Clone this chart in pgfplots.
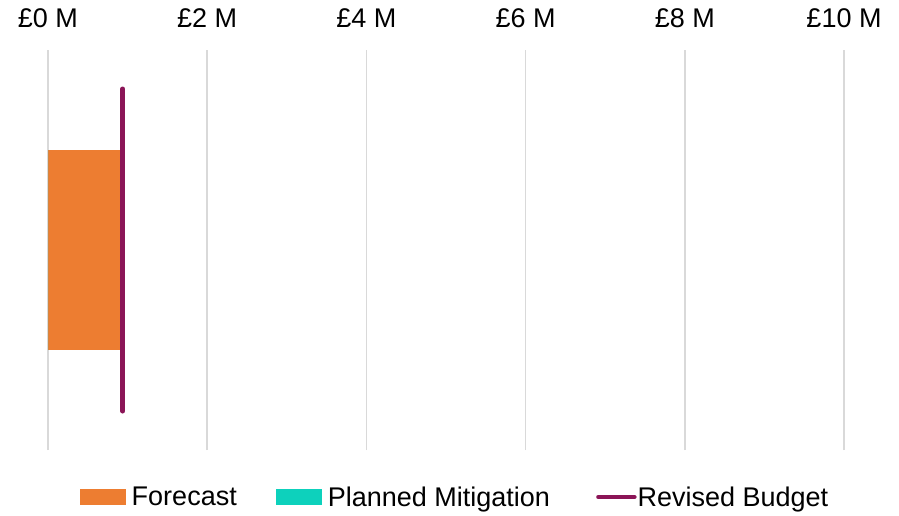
\documentclass[border=0pt]{standalone}
\usepackage{pgfplots}
\pgfplotsset{compat=1.18}
\usepackage{fontspec}
\setmainfont{Liberation Sans}

\definecolor{forecast}{RGB}{237,125,49}
\definecolor{mitigation}{RGB}{13,209,188}
\definecolor{budget}{RGB}{139,21,87}
\definecolor{gridgray}{RGB}{217,217,217}

\begin{document}
\begin{tikzpicture}
\begin{axis}[
  scale only axis,
  width=796pt, height=400pt,
  xmin=0, xmax=10, ymin=-1, ymax=1,
  axis line style={draw=none},
  xtick={0,2,4,6,8,10},
  xticklabels={£0 M,£2 M,£4 M,£6 M,£8 M,£10 M},
  ytick=\empty,
  xmajorgrids,
  major grid style={gridgray, line width=1.6pt},
  major tick length=0pt,
  xticklabel pos=upper,
  /pgf/number format/assume math mode=true,
  xticklabel style={font=\fontsize{27}{32}\selectfont, anchor=base, yshift=22pt, inner sep=0pt},
  legend columns=3,
  legend style={
    at={(0.5107,-0.1175)}, anchor=center,
    draw=none, fill=none,
    font=\fontsize{27}{32}\selectfont,
    nodes={inner sep=1pt},
    /tikz/every even column/.append style={column sep=38pt},
  },
  clip=false,
]
\addplot[xbar, bar width=1, fill=forecast, draw=none,
  legend image code/.code={\fill[forecast] (0pt,-8pt) rectangle (46pt,8pt); \path (51pt,0pt);}]
  coordinates {(0.91,0)};
\addlegendentry{Forecast}
\addplot[xbar, bar width=1, fill=mitigation, draw=none,
  legend image code/.code={\fill[mitigation] (0pt,-8pt) rectangle (46pt,8pt); \path (51pt,0pt);}]
  coordinates {(0,0)};
\addlegendentry{Planned Mitigation}
\addplot[budget, line width=5pt, line cap=round,
  legend image code/.code={\path (0pt,0pt); \draw[budget, line width=4.5pt, line cap=round] (7pt,0pt) -- (43pt,0pt);}]
  coordinates {(0.94,-0.805) (0.94,0.805)};
\addlegendentry{Revised Budget}
\coordinate (sw) at (rel axis cs:0,0);
\end{axis}
\pgfresetboundingbox
\useasboundingbox (sw) ++(-48pt,-65pt) rectangle ++(899pt,515pt);
\end{tikzpicture}
\end{document}
